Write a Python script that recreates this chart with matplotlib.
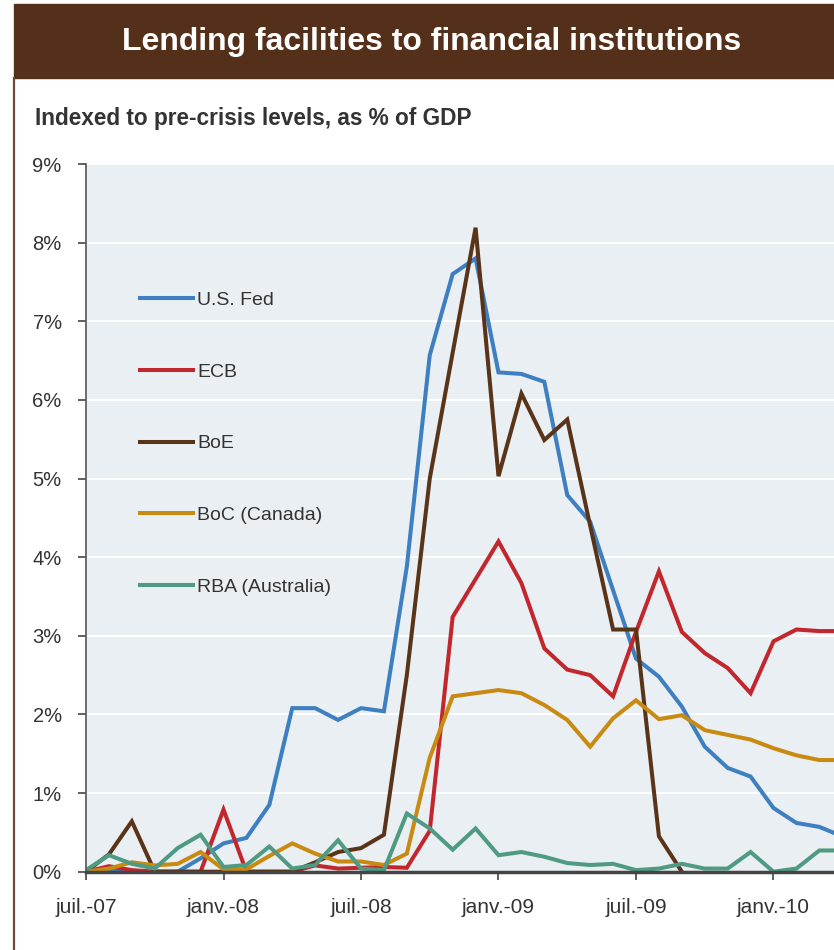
import numpy as np
import matplotlib.pyplot as plt
from matplotlib.patches import Rectangle
from matplotlib.lines import Line2D

plt.rcParams['font.family'] = ['Liberation Sans', 'DejaVu Sans']

# monthly points, juil.-07 .. avr.-10
months = np.arange(34)
tick_pos = [0, 6, 12, 18, 24, 30]
tick_labels = ['juil.-07', 'janv.-08', 'juil.-08', 'janv.-09', 'juil.-09', 'janv.-10']

fed = [0, 0.02, 0, 0, 0, 0.17, 0.36, 0.43, 0.85, 2.08, 2.08, 1.93, 2.08, 2.04, 3.88,
       6.57, 7.60, 7.80, 6.35, 6.33, 6.23, 4.79, 4.45, 3.58, 2.71, 2.48, 2.10, 1.59,
       1.32, 1.21, 0.81, 0.62, 0.57, 0.45]
ecb = [0, 0.07, 0.02, 0, 0, 0, 0.79, 0, 0, 0, 0.08, 0.04, 0.05, 0.06, 0.05,
       0.52, 3.24, 3.72, 4.20, 3.67, 2.84, 2.57, 2.50, 2.23, 3.05, 3.82, 3.05, 2.78,
       2.59, 2.27, 2.93, 3.08, 3.06, 3.06]
boe = [0, 0.22, 0.64, 0, 0, 0, 0, 0, 0, 0, 0.12, 0.25, 0.30, 0.47, 2.50,
       5.00, 6.60, 8.19, 5.03, 6.08, 5.49, 5.75, 4.40, 3.08, 3.08, 0.45, 0]
boe = boe + [np.nan] * (len(months) - len(boe))
boc = [0, 0.04, 0.12, 0.08, 0.10, 0.25, 0.03, 0.03, 0.20, 0.36, 0.23, 0.13, 0.13,
       0.085, 0.23, 1.45, 2.23, 2.27, 2.31, 2.27, 2.12, 1.93, 1.59, 1.95, 2.18, 1.94,
       1.99, 1.80, 1.74, 1.68, 1.57, 1.48, 1.42, 1.42]
rba = [0.02, 0.21, 0.10, 0.04, 0.30, 0.47, 0.06, 0.085, 0.32, 0.04, 0.085, 0.40,
       0.04, 0.02, 0.74, 0.55, 0.28, 0.55, 0.21, 0.25, 0.19, 0.11, 0.085, 0.10, 0.02,
       0.04, 0.10, 0.04, 0.04, 0.25, 0.0, 0.04, 0.27, 0.27]

series = [
    ('U.S. Fed', fed, '#3d7fc1'),
    ('ECB', ecb, '#c1272d'),
    ('BoE', boe, '#5a3418'),
    ('BoC (Canada)', boc, '#c98a12'),
    ('RBA (Australia)', rba, '#4e9a82'),
]

fig = plt.figure(figsize=(8.34, 9.5), dpi=100)

# brown banner + left border
fig.add_artist(Rectangle((14 / 834, 1 - 78 / 950), 1 - 14 / 834, 74 / 950,
                         transform=fig.transFigure, color='#54301a'))
fig.add_artist(Line2D([14 / 834, 14 / 834], [0, 1 - 78 / 950],
                      transform=fig.transFigure, color='#6b4a33', lw=1.6))
fig.text(432 / 834, 1 - 42 / 950, 'Lending facilities to financial institutions',
         color='white', fontsize=23, fontweight='bold', ha='center', va='center')
fig.text(35 / 834, 1 - 118 / 950, 'Indexed to pre-crisis levels, as % of GDP',
         color='#333333', fontsize=16.3, fontweight='bold', ha='left', va='center')

ax = fig.add_axes([86 / 834, 1 - 871.7 / 950, 1 - 86 / 834, (871.7 - 164) / 950])
ax.set_facecolor('#e9eff3')

for name, vals, col in series:
    ax.plot(months, vals, color=col, lw=2.9, label=name, solid_joinstyle='miter')

ax.set_xlim(0, 32.64)
ax.set_ylim(0, 9)
ax.set_yticks(range(10))
ax.set_yticklabels([f'{v}%' for v in range(10)])
ax.set_xticks(tick_pos)
ax.set_xticklabels(tick_labels)

ax.yaxis.grid(True, color='white', lw=1.5)
ax.set_axisbelow(True)
for s in ['top', 'right']:
    ax.spines[s].set_visible(False)
ax.spines['left'].set_color('#555555')
ax.spines['left'].set_linewidth(1.2)
ax.spines['bottom'].set_color('#444444')
ax.spines['bottom'].set_linewidth(2.5)

ax.tick_params(axis='y', length=6, width=1.2, color='#444444', pad=11.5,
               labelsize=14.5, labelcolor='#333333')
ax.tick_params(axis='x', length=6, width=1.2, color='#444444', pad=13,
               labelsize=15, labelcolor='#333333')

ax.legend(loc='upper left', bbox_to_anchor=((140 - 86) / 748, 1 - (291.5 - 164) / 707.7),
          frameon=False, fontsize=14, handlelength=2.73, handletextpad=0.2,
          labelspacing=2.78, borderpad=0, borderaxespad=0, labelcolor='#333333')

fig.savefig('out.png', dpi=100)
